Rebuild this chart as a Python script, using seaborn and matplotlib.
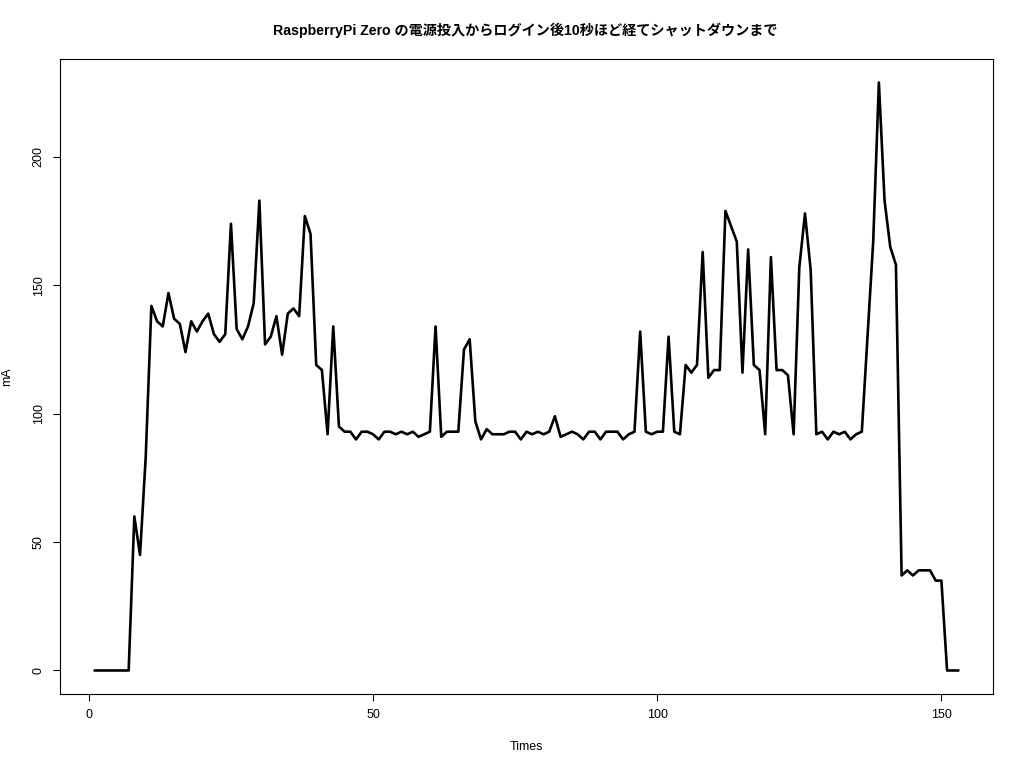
import matplotlib
matplotlib.use("Agg")
import matplotlib.pyplot as plt
import pandas as pd
import seaborn as sns

# current readings (mA), one per second
times = list(range(1, 154))
ma = [
    0, 0, 0, 0, 0, 0, 0, 60, 45, 83,
    142, 136, 134, 147, 137, 135, 124, 136, 132, 136,
    139, 131, 128, 131, 174, 133, 129, 134, 143, 183,
    127, 130, 138, 123, 139, 141, 138, 177, 170, 119,
    117, 92, 134, 95, 93, 93, 90, 93, 93, 92,
    90, 93, 93, 92, 93, 92, 93, 91, 92, 93,
    134, 91, 93, 93, 93, 125, 129, 97, 90, 94,
    92, 92, 92, 93, 93, 90, 93, 92, 93, 92,
    93, 99, 91, 92, 93, 92, 90, 93, 93, 90,
    93, 93, 93, 90, 92, 93, 132, 93, 92, 93,
    93, 130, 93, 92, 119, 116, 119, 163, 114, 117,
    117, 179, 173, 167, 116, 164, 119, 117, 92, 161,
    117, 117, 115, 92, 157, 178, 156, 92, 93, 90,
    93, 92, 93, 90, 92, 93, 130, 167, 229, 183,
    165, 158, 37, 39, 37, 39, 39, 39, 35, 35,
    0, 0, 0,
]
xticks = [0, 50, 100, 150]
yticks = [0, 50, 100, 150, 200]

title = "RaspberryPi Zero の電源投入からログイン後10秒ほど経てシャットダウンまで"

df = pd.DataFrame({"Times": times, "mA": ma})

sns.set_style("white")
plt.rcParams["font.family"] = ["Liberation Sans", "Noto Sans CJK JP", "DejaVu Sans"]
plt.rcParams["text.color"] = "black"
plt.rcParams["axes.labelcolor"] = "black"

fig = plt.figure(figsize=(10.24, 7.68), dpi=100)
ax = fig.add_axes([60 / 1024, 74 / 768, 933 / 1024, 635 / 768])

sns.lineplot(data=df, x="Times", y="mA", ax=ax, color="black", linewidth=1.9)

# R-style 4% padding
xr = max(times) - min(times)
yr = max(ma) - min(ma)
ax.set_xlim(min(times) - 0.04 * xr, max(times) + 0.04 * xr)
ax.set_ylim(min(ma) - 0.04 * yr, max(ma) + 0.04 * yr)

ax.set_xticks(xticks)
ax.set_yticks(yticks)
ax.set_xticklabels([str(t) for t in xticks], fontsize=9)
ax.set_yticklabels([str(t) for t in yticks], fontsize=9, rotation=90, va="center")
ax.tick_params(axis="both", direction="out", length=5, width=0.8, color="black",
               labelcolor="black", pad=6, bottom=True, left=True)

for s in ax.spines.values():
    s.set_color("black")
    s.set_linewidth(0.8)

ax.set_xlabel("Times", fontsize=9, labelpad=14, color="black")
ax.set_ylabel("mA", fontsize=9, labelpad=14, color="black")
fig.text(0.513, 0.961, title, ha="center", va="center", fontsize=10.2,
         fontweight="bold", color="black", family=["Liberation Sans", "Noto Sans CJK JP"])

fig.savefig("out.png", dpi=100)
